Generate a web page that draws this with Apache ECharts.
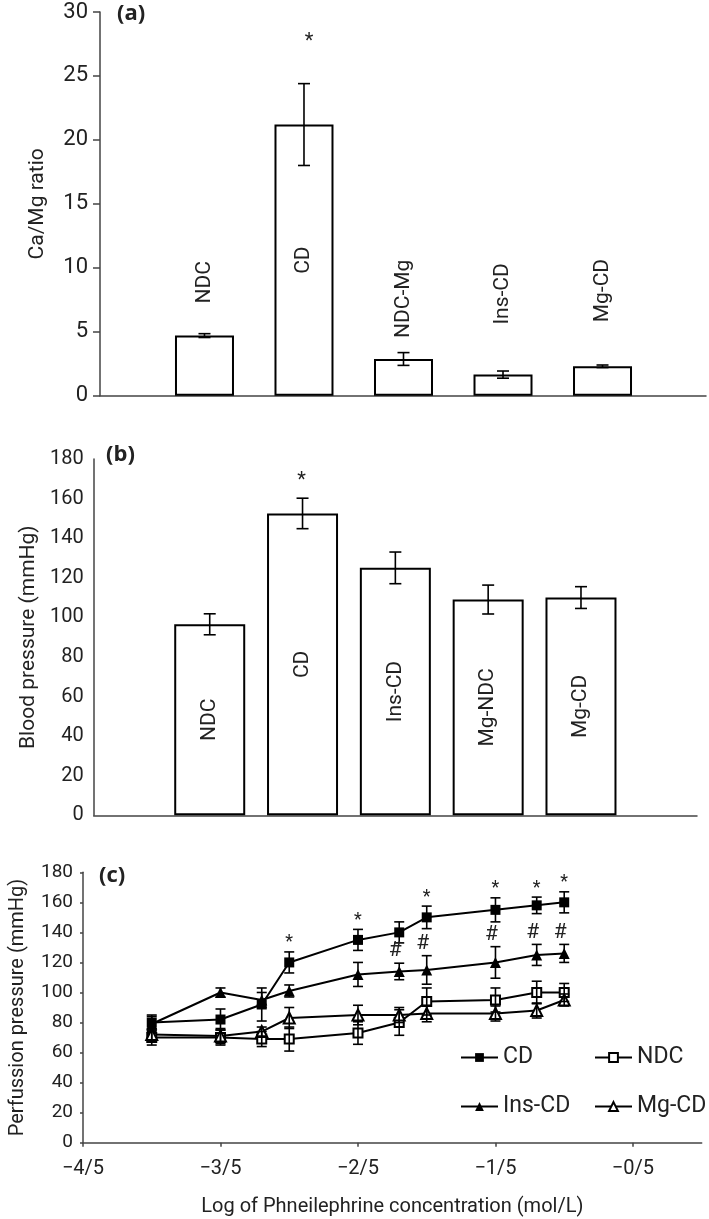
<!DOCTYPE html>
<html>
<head>
<meta charset="utf-8">
<script src="https://cdn.jsdelivr.net/npm/echarts@6/dist/echarts.min.js"></script>
<style>
html,body{margin:0;padding:0;background:#fff;}
#chart{width:709px;height:1219px;}
</style>
</head>
<body>
<div id="chart"></div>
<script>
// ---------- Panel (a): Ca/Mg ratio ----------
const catsA = ['NDC', 'CD', 'NDC-Mg', 'Ins-CD', 'Mg-CD'];
const valsA = [4.7, 21.2, 2.87, 1.65, 2.3];
const errA  = [0.15, 3.2, 0.5, 0.28, 0.1];
const sigA  = ['', '*', '', '', ''];

// ---------- Panel (b): Blood pressure ----------
const catsB = ['NDC', 'CD', 'Ins-CD', 'Mg-NDC', 'Mg-CD'];
const valsB = [96.5, 152.5, 125, 109, 110];
const errB  = [5.3, 7.7, 8, 7.3, 5.5];
const sigB  = ['', '*', '', '', ''];

// ---------- Panel (c): Perfusion pressure ----------
const logConc = [-3.5, -3, -2.7, -2.5, -2, -1.7, -1.5, -1, -0.7, -0.5];
const xTickValuesC = [-4, -3, -2, -1, 0];
const xTickLabelsC = ['\u22124/5', '\u22123/5', '\u22122/5', '\u22121/5', '\u22120/5'];
const cdVals  = [80, 82, 92, 120, 135, 140, 150, 155, 158, 160];
const cdErr   = [5, 7, 11, 7, 7, 7, 7.5, 8, 5.5, 7];
const cdSig   = ['', '', '', '*', '*', '', '*', '*', '*', '*'];
const insVals = [79, 100, 95, 101, 112, 114, 115, 120, 125, 126];
const insErr  = [5, 3, 5, 4, 8, 5.5, 9.5, 10.5, 7, 6];
const insSig  = ['', '', '', '', '', '#', '#', '#', '#', '#'];
const ndcVals = [70, 70, 69, 69, 73, 80, 94, 95, 100, 100];
const ndcErr  = [5, 5, 5, 8, 7.5, 8.5, 9, 8, 7.5, 6];
const mgVals  = [72, 71, 74, 83, 85, 85, 86, 86, 88, 95];
const mgErr   = [4, 5, 3, 7, 6.5, 5, 5.5, 5, 5, 4];

// ---------- styles ----------
const FONT = 'Roboto';
const TXT = '#222';
const AXC = '#444';
const labelPlaceA = [{position:'top', distance:32}, {position:'inside'}, {position:'top', distance:21}, {position:'top', distance:50}, {position:'top', distance:44}];

function barData(cats, vals, places) {
  return vals.map((v, i) => {
    const p = places ? places[i] : {position:'inside'};
    const lab = p.position === 'inside'
      ? {position:'inside', align:'center', verticalAlign:'middle'}
      : {position:'top', distance:p.distance, align:'left', verticalAlign:'middle'};
    return {value:[i + 1, v], label: lab};
  });
}

function errSeries(xs, vals, errs, marks, opt) {
  return {
    type: 'custom',
    xAxisIndex: opt.axis, yAxisIndex: opt.axis,
    z: 10,
    silent: true,
    data: vals.map((v, i) => [xs[i], v, errs[i]]),
    renderItem: function (params, api) {
      const x = api.value(0), y = api.value(1), e = api.value(2);
      const t = api.coord([x, y + e]);
      const b = api.coord([x, y - e]);
      const w = opt.cap;
      const st = {stroke:'#000', lineWidth:1.6};
      const ch = [
        {type:'line', shape:{x1:t[0], y1:t[1], x2:b[0], y2:b[1]}, style:st},
        {type:'line', shape:{x1:t[0]-w, y1:t[1], x2:t[0]+w, y2:t[1]}, style:st},
        {type:'line', shape:{x1:b[0]-w, y1:b[1], x2:b[0]+w, y2:b[1]}, style:st}
      ];
      const m = marks ? marks[params.dataIndex] : '';
      if (m) {
        ch.push({type:'text', x: t[0] + opt.mdx, y: t[1] - opt.mdy,
          style:{text:m, fontSize:opt.mfs, fontFamily:FONT, fill:TXT, align:'center', verticalAlign:'middle'}});
      }
      return {type:'group', children: ch};
    }
  };
}

const xsA = catsA.map((c, i) => i + 1);
const xsB = catsB.map((c, i) => i + 1);

const yAxisCommon = {
  type:'value', splitLine:{show:false},
  axisLine:{show:true, onZero:false, lineStyle:{color:AXC, width:1.5}},
  nameLocation:'middle',
  nameTextStyle:{fontFamily:FONT, fontSize:21, color:TXT}
};
const titleStyle = {fontFamily:'Open Sans', fontWeight:'bold', fontSize:22, color:TXT};

const option = {
  animation: false,
  backgroundColor: '#fff',
  title: [
    {text:'(a)', left:117, top:3, padding:0, textStyle:titleStyle},
    {text:'(b)', left:106, top:444, padding:0, textStyle:titleStyle},
    {text:'(c)', left:99, top:865, padding:0, textStyle:titleStyle}
  ],
  grid: [
    {left:100, right:3, top:12, bottom:823.3},
    {left:93.7, right:12, top:459, bottom:403.7},
    {left:80, right:7.3, top:872.3, bottom:76.3}
  ],
  xAxis: [
    {gridIndex:0, type:'value', min:-0.05, max:6.04, splitLine:{show:false}, axisTick:{show:false}, axisLabel:{show:false},
     axisLine:{show:true, lineStyle:{color:AXC, width:1.5}}},
    {gridIndex:1, type:'value', min:-0.25, max:6.25, splitLine:{show:false}, axisTick:{show:false}, axisLabel:{show:false},
     axisLine:{show:true, lineStyle:{color:AXC, width:1.5}}},
    {gridIndex:2, type:'value', min:-4, max:0.5, interval:1, splitLine:{show:false},
     axisLine:{show:true, lineStyle:{color:AXC, width:1.5}},
     axisTick:{show:true, length:4, lineStyle:{color:AXC, width:1.5}, customValues: xTickValuesC},
     axisLabel:{fontFamily:FONT, fontSize:20, color:TXT, margin:16, customValues: xTickValuesC,
       formatter: v => { const k = xTickValuesC.indexOf(v); return k >= 0 ? xTickLabelsC[k] : ''; }},
     name:'Log of Phneilephrine concentration (mol/L)', nameLocation:'middle', nameGap:54,
     nameTextStyle:{fontFamily:FONT, fontSize:20, color:TXT}}
  ],
  yAxis: [
    Object.assign({}, yAxisCommon, {gridIndex:0, min:0, max:30, interval:5,
      axisTick:{show:true, length:7, lineStyle:{color:AXC, width:1.5}},
      axisLabel:{fontFamily:FONT, fontSize:22, color:TXT, margin:12},
      name:'Ca/Mg ratio', nameGap:52}),
    Object.assign({}, yAxisCommon, {gridIndex:1, min:0, max:180, interval:20,
      axisTick:{show:false},
      axisLabel:{fontFamily:FONT, fontSize:20, color:TXT, margin:10},
      name:'Blood pressure (mmHg)', nameGap:54}),
    Object.assign({}, yAxisCommon, {gridIndex:2, min:0, max:180, interval:20,
      axisTick:{show:true, length:3, lineStyle:{color:AXC, width:1.5}},
      axisLabel:{fontFamily:FONT, fontSize:19, color:TXT, margin:10},
      name:'Perfussion pressure (mmHg)', nameGap:55, nameTextStyle:{fontFamily:FONT, fontSize:20, color:TXT}})
  ],
  legend: [
    {data:['CD', 'Ins-CD'], orient:'vertical', left:455, top:1041, itemGap:26, itemWidth:37, itemHeight:11,
     selectedMode:false, textStyle:{fontFamily:FONT, fontSize:23, color:TXT}},
    {data:['NDC', 'Mg-CD'], orient:'vertical', left:589, top:1041, itemGap:26, itemWidth:37, itemHeight:11,
     selectedMode:false, textStyle:{fontFamily:FONT, fontSize:23, color:TXT}}
  ],
  series: [
    {type:'bar', xAxisIndex:0, yAxisIndex:0, barWidth:59, z:2,
     itemStyle:{color:'#fff', borderColor:'#000', borderWidth:2},
     label:{show:true, rotate:90, fontFamily:FONT, fontSize:21, color:TXT, formatter: p => catsA[p.dataIndex]},
     data: barData(catsA, valsA, labelPlaceA)},
    errSeries(xsA, valsA, errA, sigA, {axis:0, cap:6, mdx:5, mdy:42, mfs:20}),
    {type:'bar', xAxisIndex:1, yAxisIndex:1, barWidth:71, z:2,
     itemStyle:{color:'#fff', borderColor:'#000', borderWidth:2},
     label:{show:true, rotate:90, fontFamily:FONT, fontSize:21, color:TXT, formatter: p => catsB[p.dataIndex]},
     data: barData(catsB, valsB, null)},
    errSeries(xsB, valsB, errB, sigB, {axis:1, cap:6, mdx:-1, mdy:17, mfs:20}),
    {name:'CD', type:'line', xAxisIndex:2, yAxisIndex:2, symbol:'rect', symbolSize:10, z:5,
     lineStyle:{color:'#000', width:2}, itemStyle:{color:'#000'},
     data: logConc.map((x, i) => [x, cdVals[i]])},
    {name:'NDC', type:'line', xAxisIndex:2, yAxisIndex:2, symbol:'emptyRect', symbolSize:9, z:4,
     lineStyle:{color:'#000', width:2}, itemStyle:{color:'#000', borderWidth:1.5},
     data: logConc.map((x, i) => [x, ndcVals[i]])},
    {name:'Ins-CD', type:'line', xAxisIndex:2, yAxisIndex:2, symbol:'triangle', symbolSize:11, z:5,
     lineStyle:{color:'#000', width:2}, itemStyle:{color:'#000'},
     data: logConc.map((x, i) => [x, insVals[i]])},
    {name:'Mg-CD', type:'line', xAxisIndex:2, yAxisIndex:2, symbol:'emptyTriangle', symbolSize:11, z:4,
     lineStyle:{color:'#000', width:2}, itemStyle:{color:'#000', borderWidth:1.5},
     data: logConc.map((x, i) => [x, mgVals[i]])},
    errSeries(logConc, cdVals, cdErr, cdSig, {axis:2, cap:5, mdx:0, mdy:9, mfs:18}),
    errSeries(logConc, insVals, insErr, insSig, {axis:2, cap:5, mdx:-4, mdy:12, mfs:21}),
    errSeries(logConc, ndcVals, ndcErr, null, {axis:2, cap:5, mdx:0, mdy:0, mfs:18}),
    errSeries(logConc, mgVals, mgErr, null, {axis:2, cap:5, mdx:0, mdy:0, mfs:18})
  ]
};

const chart = echarts.init(document.getElementById('chart'), null, {renderer:'canvas'});
chart.setOption(option);
</script>
</body>
</html>
